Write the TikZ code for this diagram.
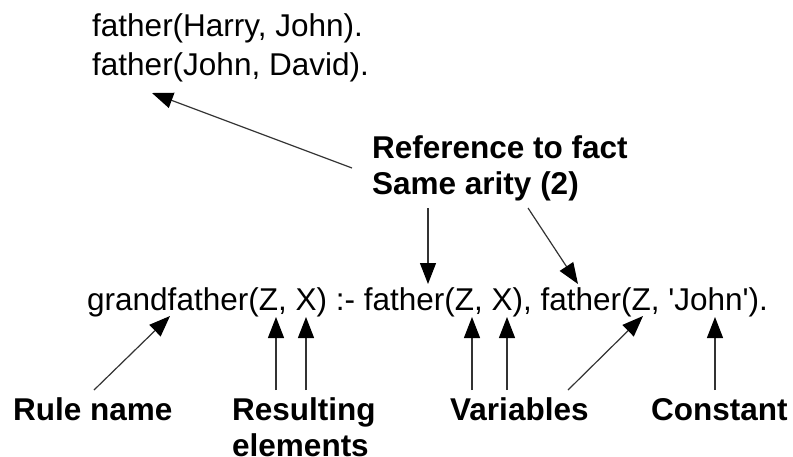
\documentclass[tikz,border=0pt]{standalone}
\usepackage{fontspec}
\setmainfont{Liberation Sans}
\usetikzlibrary{arrows.meta}
\newcommand{\sq}{\textquotesingle}
\begin{document}
\begin{tikzpicture}[x=1pt,y=-1pt,
  txt/.style={anchor=base west,inner sep=0pt,font=\fontsize{31.5}{38}\selectfont},
  lbl/.style={txt,font=\fontsize{31.5}{38}\selectfont\bfseries},
  pointer/.style={draw=black!80,line width=1.2pt,-{Triangle[length=21pt,width=16pt,color=black]}}]
\useasboundingbox (0,0) rectangle (793,456);
% facts
\node[txt] (fact1) at (92,36) {father(Harry, John).};
\node[txt] (fact2) at (92,75) {father(John, David).};
% rule
\node[txt] (rule) at (87,310) {grandfather(Z, X) :- father(Z, X), father(Z, \sq John\sq).};
% annotations
\node[lbl] (ref1) at (372,158) {Reference to fact};
\node[lbl] (ref2) at (372,194) {Same arity (2)};
\node[lbl] (rname) at (13,420) {Rule name};
\node[lbl] (res1) at (232,420) {Resulting};
\node[lbl] (res2) at (232,456) {elements};
\node[lbl] (vars) at (450,420) {Variables};
\node[lbl] (const) at (651,420) {Constant};
% connector end points
\coordinate (refA) at (352,168); \coordinate (factT) at (152,93);
\coordinate (refB) at (428,208); \coordinate (bodyA) at (428,284);
\coordinate (refC) at (528,208); \coordinate (bodyB) at (578,284);
\coordinate (rnS) at (94,390);  \coordinate (rnT) at (170,316);
\coordinate (rzS) at (276,390); \coordinate (rzT) at (276,317);
\coordinate (rxS) at (306,390); \coordinate (rxT) at (306,317);
\coordinate (v1S) at (472,390); \coordinate (v1T) at (472,317);
\coordinate (v2S) at (507,390); \coordinate (v2T) at (507,317);
\coordinate (v3S) at (568,390); \coordinate (v3T) at (643,316);
\coordinate (cS) at (715,390);  \coordinate (cT) at (715,317);
% connectors
\draw[pointer] (refA) -- (factT);
\draw[pointer] (refB) -- (bodyA);
\draw[pointer] (refC) -- (bodyB);
\draw[pointer] (rnS) -- (rnT);
\draw[pointer] (rzS) -- (rzT);
\draw[pointer] (rxS) -- (rxT);
\draw[pointer] (v1S) -- (v1T);
\draw[pointer] (v2S) -- (v2T);
\draw[pointer] (v3S) -- (v3T);
\draw[pointer] (cS) -- (cT);
\end{tikzpicture}
\end{document}
